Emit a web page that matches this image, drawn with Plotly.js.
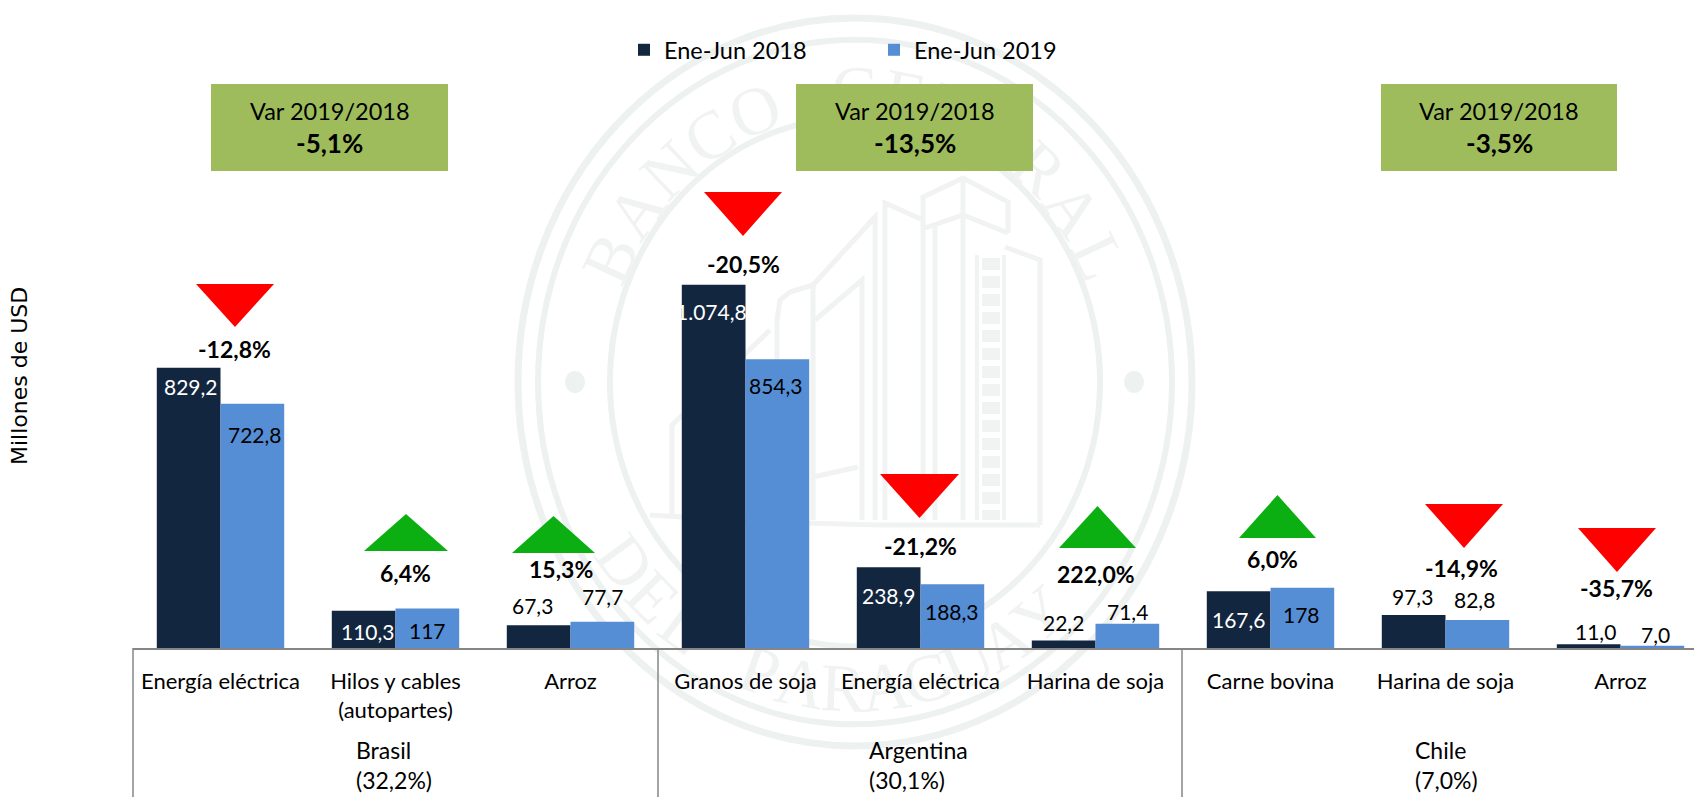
<!DOCTYPE html>
<html><head><meta charset="utf-8">
<script src="https://cdn.plot.ly/plotly-3.0.1.min.js"></script>
<style>html,body{margin:0;padding:0;background:#fff;overflow:hidden}</style>
</head><body><div id="chart" style="width:1694px;height:797px"></div>
<script>
// ---- data ----
const categories = ["Energía eléctrica","Hilos y cables<br>(autopartes)","Arroz","Granos de soja","Energía eléctrica","Harina de soja","Carne bovina","Harina de soja","Arroz"];
const values2018 = [829.2,110.3,67.3,1074.8,238.9,22.2,167.6,97.3,11.0];
const values2019 = [722.8,117,77.7,854.3,188.3,71.4,178,82.8,7.0];
const labels2018 = ["829,2","110,3","67,3","1.074,8","238,9","22,2","167,6","97,3","11,0"];
const labels2019 = ["722,8","117","77,7","854,3","188,3","71,4","178","82,8","7,0"];
const variations = ["-12,8%","6,4%","15,3%","-20,5%","-21,2%","222,0%","6,0%","-14,9%","-35,7%"];
const countries = ["Brasil<br>(32,2%)","Argentina<br>(30,1%)","Chile<br>(7,0%)"];
const groupVariations = ["-5,1%","-13,5%","-3,5%"];
const seriesNames = ["Ene-Jun 2018","Ene-Jun 2019"];

// ---- styling / placement (pixels) ----
const W=1694,H=797,L=133,BASE=648;
const px=x=>(x-L)/(W-L), py=y=>(BASE-y)/BASE;
const FONT='Lato, "Open Sans", sans-serif';
const DARK='#12263F',BLUE='#558ED5',RED='#FF0000',GREEN='#0BAF12',BOX='#9FBC5C',AXIS='#868686',MARK='#edf1f0',MARK2='#f0f3f2';
const PXUNIT=0.338;
const dx18=[2,4,-6,-2,0,0,0,-1,7], dy18=[-19,-21,20,-27,-28,18,-28,19,13];
const dx19=[3,0,0,-1,0,0,-1,-3,3], dy19=[-31,-22,25,-26,-27,12,-27,21,11];
const inside18=[1,1,0,1,1,0,1,0,0];
// triangle: [left,right,topY,bottomY,pointsDown]; label centre [x,y]
const tri=[[196,274,284,327,1],[364,448,514,551,0],[512,595,516,553,0],[704,782,192,236,1],[880,959,474,518,1],[1059,1136,506,548,0],[1239,1316,495,538,0],[1425,1503,504,548,1],[1578,1656,528,572,1]];
const varPos=[[234,349],[405,573],[561,569],[743,264],[920,546],[1096,574],[1272,559],[1461,568],[1616,588]];
const boxes=[[211,448],[796,1033],[1381,1617]];
const countryX=[394,919,1446];

// ---- watermark (drawn on the 'below' layer) ----
const CX=855,CY=382,EY=1.08;
const shapes=[];
function ring(rx,w){shapes.push({type:'circle',layer:'below',xref:'paper',yref:'paper',x0:px(CX-rx),x1:px(CX+rx),y0:py(CY+rx*EY),y1:py(CY-rx*EY),line:{color:MARK,width:w}});}
ring(337,7);ring(317,6);ring(245,6);
[575,1134].forEach(d=>shapes.push({type:'circle',layer:'below',xref:'paper',yref:'paper',x0:px(d-10),x1:px(d+10),y0:py(CY+11),y1:py(CY-11),fillcolor:MARK,line:{width:0}}));
function pl(pts,w,dash){const p=pts.map((q,i)=>(i?'L':'M')+px(q[0]).toFixed(5)+','+py(q[1]).toFixed(5)).join(' ');
 shapes.push({type:'path',layer:'below',xref:'paper',yref:'paper',path:p,line:{color:MARK2,width:w||5,dash:dash||'solid'}});}
pl([[923,520],[923,197],[963,178],[1008,202],[1008,233]]);
pl([[925,228],[963,215],[1008,233]]);
pl([[963,178],[963,520]]);
pl([[935,225],[935,520]]);
pl([[885,520],[885,203],[923,220]]);
pl([[875,520],[875,217],[813,285],[790,292],[780,300],[777,320],[777,440]]);
pl([[862,520],[862,280],[815,320]]);
pl([[813,285],[813,520]]);
pl([[770,330],[672,425],[672,516]]);
pl([[813,477],[858,467]]);
pl([[1005,247],[1040,260],[1040,525]]);
pl([[977,255],[977,520]],4);pl([[1004,255],[1004,520]],4);
pl([[991,258],[991,520]],18,'12px,6px');
pl([[650,515],[760,522],[880,525],[1040,525]]);
function letters(str,a0,step,top){[...str].forEach((c,i)=>{if(c===' ')return;
  const a=a0+step*i,t=a*Math.PI/180,r=277,x=CX+r*Math.cos(t),y=CY-r*EY*Math.sin(t);
  shapes.push({type:'rect',layer:'below',xref:'paper',yref:'paper',x0:px(x-20),x1:px(x+20),y0:py(y+20),y1:py(y-20),line:{width:0},fillcolor:'rgba(0,0,0,0)',
    label:{text:c,textposition:'middle center',textangle:top?90-a:-a-90,font:{family:'"Liberation Serif",serif',size:68,color:'#f0f3f2'}}});});}
letters("BANCO CEN",155,-10.8,true);
letters("RAL",155-10.8*10,-10.8,true);
letters("DEL PARAGUAY",-144,8.6,false);

// ---- traces ----
const idx=categories.map((_,i)=>i);
const data=[
 {type:'bar',name:seriesNames[0],x:idx,y:values2018,marker:{color:DARK,line:{width:0}},hoverinfo:'y+name'},
 {type:'bar',name:seriesNames[1],x:idx,y:values2019,marker:{color:BLUE,line:{width:0}},hoverinfo:'y+name'}
];
const ann=[];
function vals(v,l,dx,dy,off,color){v.forEach((val,i)=>ann.push({x:i+off,y:val,xref:'x',yref:'y',text:l[i],showarrow:false,xshift:dx[i],yshift:dy[i],xanchor:'center',yanchor:'middle',font:{family:FONT,size:21,color:color(i)}}));}
vals(values2018,labels2018,dx18,dy18,-0.182,i=>inside18[i]?'#ffffff':'#000000');
vals(values2019,labels2019,dx19,dy19,0.182,()=>'#000000');
variations.forEach((t,i)=>ann.push({xref:'paper',yref:'paper',x:px(varPos[i][0]),y:py(varPos[i][1]),text:'<b>'+t+'</b>',showarrow:false,xanchor:'center',yanchor:'middle',font:{family:FONT,size:23,color:'#000'}}));
tri.forEach(t=>{const m=(t[0]+t[1])/2;const pts=t[4]?[[t[0],t[2]],[t[1],t[2]],[m,t[3]]]:[[t[0],t[3]],[t[1],t[3]],[m,t[2]]];
 shapes.push({type:'path',layer:'above',xref:'paper',yref:'paper',fillcolor:t[4]?RED:GREEN,line:{width:0},path:pts.map((q,i)=>(i?'L':'M')+px(q[0]).toFixed(5)+','+py(q[1]).toFixed(5)).join(' ')+' Z'});});
boxes.forEach((b,i)=>{
 shapes.push({type:'rect',layer:'below',xref:'paper',yref:'paper',x0:px(b[0]),x1:px(b[1]),y0:py(171),y1:py(84),fillcolor:BOX,line:{width:0}});
 const cx=px((b[0]+b[1])/2);
 ann.push({xref:'paper',yref:'paper',x:cx,y:py(111),xanchor:'center',yanchor:'middle',showarrow:false,text:'Var 2019/2018',font:{family:FONT,size:23.5,color:'#000'}});
 ann.push({xref:'paper',yref:'paper',x:cx,y:py(143),xanchor:'center',yanchor:'middle',showarrow:false,text:'<b>'+groupVariations[i]+'</b>',font:{family:FONT,size:26,color:'#000'}});
});
countries.forEach((t,i)=>ann.push({xref:'paper',yref:'paper',x:px(countryX[i]),y:py(765),xanchor:'center',yanchor:'middle',showarrow:false,align:'left',text:t,font:{family:FONT,size:23,color:'#000'}}));
ann.push({xref:'paper',yref:'paper',x:px(19),y:py(376),text:'Millones de USD',textangle:-90,showarrow:false,xanchor:'center',yanchor:'middle',font:{family:'"DejaVu Sans",sans-serif',size:22,color:'#000'}});
[133,658,1182].forEach(x=>shapes.push({type:'line',layer:'above',xref:'paper',yref:'paper',x0:px(x),x1:px(x),y0:py(BASE),y1:py(H),line:{color:AXIS,width:1.5}}));

const layout={width:W,height:H,margin:{l:L,r:0,t:0,b:H-BASE,pad:0},paper_bgcolor:'#fff',plot_bgcolor:'rgba(0,0,0,0)',
 barmode:'group',bargap:0.272,bargroupgap:0,showlegend:true,
 legend:{orientation:'h',x:px(624),y:py(50),xanchor:'left',yanchor:'middle',bgcolor:'rgba(0,0,0,0)',font:{family:FONT,size:23.5,color:'#000'},entrywidth:205,entrywidthmode:'pixels',traceorder:'normal'},
 xaxis:{range:[-0.5,-0.5+(W-L)/175],tickmode:'array',tickvals:idx,ticktext:categories,ticks:'outside',ticklen:13,tickcolor:'rgba(0,0,0,0)',showline:true,linecolor:AXIS,linewidth:2,showgrid:false,zeroline:false,tickfont:{family:FONT,size:22,color:'#000'},fixedrange:true},
 yaxis:{range:[0,BASE/PXUNIT],showticklabels:false,showgrid:false,zeroline:false,showline:false,ticks:'',fixedrange:true},
 shapes:shapes,annotations:ann};
Plotly.newPlot('chart',data,layout,{displayModeBar:false});
</script></body></html>
